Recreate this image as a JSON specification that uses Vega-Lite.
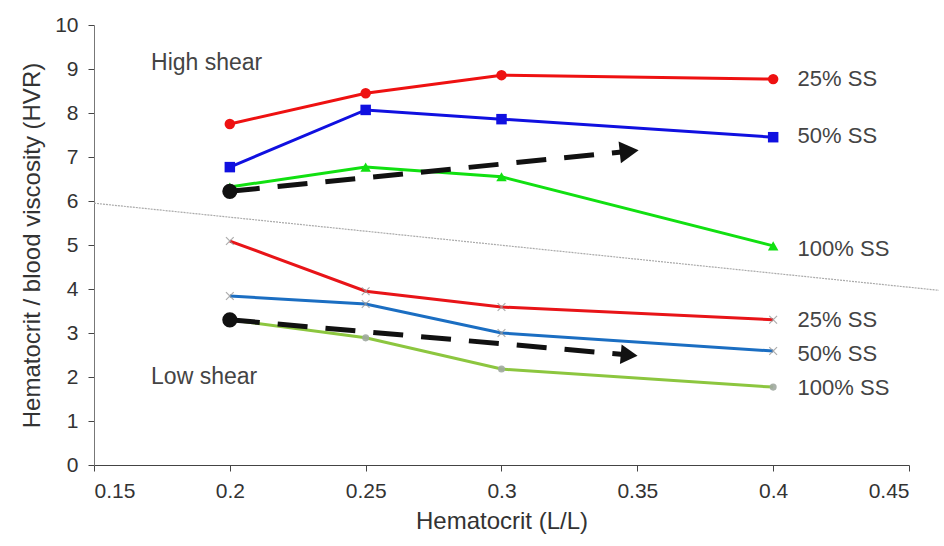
{
  "$schema": "https://vega.github.io/schema/vega-lite/v6.json",
  "width": 815,
  "height": 440,
  "autosize": {"type": "none"},
  "padding": {"left": 94, "top": 25, "right": 35, "bottom": 81},
  "background": "white",
  "config": {
    "view": {"stroke": null},
    "font": "Liberation Sans",
    "axis": {"grid": false, "labelFont": "Liberation Sans", "titleFont": "Liberation Sans", "labelColor": "#333", "titleColor": "#333", "titleFontWeight": "normal", "labelFontSize": 21, "titleFontSize": 24, "domainColor": "#444", "tickColor": "#444", "tickSize": 6}
  },
  "datasets": {
    "series": [
      {"x": 0.2, "y": 7.75, "series": "H25"},
      {"x": 0.25, "y": 8.45, "series": "H25"},
      {"x": 0.3, "y": 8.86, "series": "H25"},
      {"x": 0.4, "y": 8.77, "series": "H25"},
      {"x": 0.2, "y": 6.77, "series": "H50"},
      {"x": 0.25, "y": 8.07, "series": "H50"},
      {"x": 0.3, "y": 7.86, "series": "H50"},
      {"x": 0.4, "y": 7.45, "series": "H50"},
      {"x": 0.2, "y": 6.32, "series": "H100"},
      {"x": 0.25, "y": 6.77, "series": "H100"},
      {"x": 0.3, "y": 6.55, "series": "H100"},
      {"x": 0.4, "y": 4.98, "series": "H100"},
      {"x": 0.2, "y": 5.09, "series": "L25"},
      {"x": 0.25, "y": 3.95, "series": "L25"},
      {"x": 0.3, "y": 3.59, "series": "L25"},
      {"x": 0.4, "y": 3.3, "series": "L25"},
      {"x": 0.2, "y": 3.84, "series": "L50"},
      {"x": 0.25, "y": 3.66, "series": "L50"},
      {"x": 0.3, "y": 3.0, "series": "L50"},
      {"x": 0.4, "y": 2.59, "series": "L50"},
      {"x": 0.2, "y": 3.3, "series": "L100"},
      {"x": 0.25, "y": 2.89, "series": "L100"},
      {"x": 0.3, "y": 2.18, "series": "L100"},
      {"x": 0.4, "y": 1.77, "series": "L100"}
    ],
    "arrows": [
      {"x": 0.2, "y": 6.22, "arrow": "high", "end": "start"},
      {"x": 0.347, "y": 7.13, "arrow": "high", "end": "tip"},
      {"x": 0.2, "y": 3.3, "arrow": "low", "end": "start"},
      {"x": 0.347, "y": 2.5, "arrow": "low", "end": "tip"}
    ],
    "divider": [
      {"x": 0.15, "y": 5.95},
      {"x": 0.461, "y": 3.97}
    ],
    "labels": [
      {"x": 0.171, "y": 9.14, "text": "High shear", "kind": "title"},
      {"x": 0.171, "y": 2.0, "text": "Low shear", "kind": "title"},
      {"x": 0.409, "y": 8.77, "text": "25% SS", "kind": "series"},
      {"x": 0.409, "y": 7.48, "text": "50% SS", "kind": "series"},
      {"x": 0.409, "y": 4.9, "text": "100% SS", "kind": "series"},
      {"x": 0.409, "y": 3.3, "text": "25% SS", "kind": "series"},
      {"x": 0.409, "y": 2.52, "text": "50% SS", "kind": "series"},
      {"x": 0.409, "y": 1.75, "text": "100% SS", "kind": "series"}
    ]
  },
  "layer": [
    {
      "data": {"name": "divider"},
      "mark": {"type": "line", "color": "#aaaaaa", "strokeWidth": 1.2, "strokeDash": [2, 1], "clip": false},
      "encoding": {
        "x": {"field": "x", "type": "quantitative", "scale": {"domain": [0.15, 0.45], "nice": false, "zero": false}, "axis": {"values": [0.15, 0.2, 0.25, 0.3, 0.35, 0.4, 0.45], "format": ".2~f", "title": "Hematocrit (L/L)", "titlePadding": 8, "labelPadding": 9}},
        "y": {"field": "y", "type": "quantitative", "scale": {"domain": [0, 10], "nice": false}, "axis": {"values": [0, 1, 2, 3, 4, 5, 6, 7, 8, 9, 10], "title": "Hematocrit / blood viscosity (HVR)", "titleFontSize": 24, "titlePadding": 10, "labelPadding": 10, "domainColor": "#777"}}
      }
    },
    {
      "data": {"name": "series"},
      "mark": {"type": "line", "strokeWidth": 3},
      "encoding": {
        "x": {"field": "x", "type": "quantitative"},
        "y": {"field": "y", "type": "quantitative"},
        "detail": {"field": "series"},
        "color": {"field": "series", "type": "nominal", "legend": null,
          "scale": {"domain": ["H25", "H50", "H100", "L25", "L50", "L100"], "range": ["#ee1111", "#1010e0", "#11e011", "#e81418", "#1b6ec2", "#8cc63f"]}}
      }
    },
    {
      "data": {"name": "series"},
      "transform": [{"filter": "datum.series[0] == 'H'"}],
      "mark": {"type": "point", "filled": true, "size": 110, "opacity": 1},
      "encoding": {
        "x": {"field": "x", "type": "quantitative"},
        "y": {"field": "y", "type": "quantitative"},
        "shape": {"field": "series", "type": "nominal", "legend": null, "scale": {"domain": ["H25", "H50", "H100"], "range": ["circle", "square", "triangle-up"]}},
        "color": {"field": "series", "type": "nominal", "legend": null}
      }
    },
    {
      "data": {"name": "series"},
      "transform": [{"filter": "datum.series[0] == 'L' && datum.series != 'L100'"}],
      "mark": {"type": "point", "shape": "M-1,-1L1,1M-1,1L1,-1", "filled": false, "size": 60, "color": "#999999", "strokeWidth": 1.2, "opacity": 0.8},
      "encoding": {
        "x": {"field": "x", "type": "quantitative"},
        "y": {"field": "y", "type": "quantitative"}
      }
    },
    {
      "data": {"name": "series"},
      "transform": [{"filter": "datum.series == 'L100'"}],
      "mark": {"type": "point", "shape": "circle", "filled": true, "size": 50, "color": "#a0a8a0", "opacity": 0.9},
      "encoding": {
        "x": {"field": "x", "type": "quantitative"},
        "y": {"field": "y", "type": "quantitative"}
      }
    },
    {
      "data": {"name": "arrows"},
      "mark": {"type": "line", "color": "#111111", "strokeWidth": 5, "strokeDash": [30, 18]},
      "encoding": {
        "x": {"field": "x", "type": "quantitative"},
        "y": {"field": "y", "type": "quantitative"},
        "detail": {"field": "arrow"}
      }
    },
    {
      "data": {"name": "arrows"},
      "transform": [{"filter": "datum.end == 'start'"}],
      "mark": {"type": "point", "shape": "circle", "filled": true, "size": 230, "color": "#111111", "opacity": 1},
      "encoding": {
        "x": {"field": "x", "type": "quantitative"},
        "y": {"field": "y", "type": "quantitative"}
      }
    },
    {
      "data": {"name": "arrows"},
      "transform": [{"filter": "datum.end == 'tip' && datum.arrow == 'high'"}],
      "mark": {"type": "point", "shape": "triangle-right", "filled": true, "size": 480, "color": "#111111", "opacity": 1, "angle": -6},
      "encoding": {
        "x": {"field": "x", "type": "quantitative"},
        "y": {"field": "y", "type": "quantitative"}
      }
    },
    {
      "data": {"name": "arrows"},
      "transform": [{"filter": "datum.end == 'tip' && datum.arrow == 'low'"}],
      "mark": {"type": "point", "shape": "triangle-right", "filled": true, "size": 380, "color": "#111111", "opacity": 1, "angle": 5},
      "encoding": {
        "x": {"field": "x", "type": "quantitative"},
        "y": {"field": "y", "type": "quantitative"}
      }
    },
    {
      "data": {"name": "labels"},
      "mark": {"type": "text", "align": "left", "baseline": "middle", "color": "#444444", "font": "Liberation Sans"},
      "encoding": {
        "x": {"field": "x", "type": "quantitative"},
        "y": {"field": "y", "type": "quantitative"},
        "text": {"field": "text"},
        "size": {"field": "kind", "type": "nominal", "legend": null, "scale": {"domain": ["title", "series"], "range": [23, 22]}}
      }
    }
  ]
}
